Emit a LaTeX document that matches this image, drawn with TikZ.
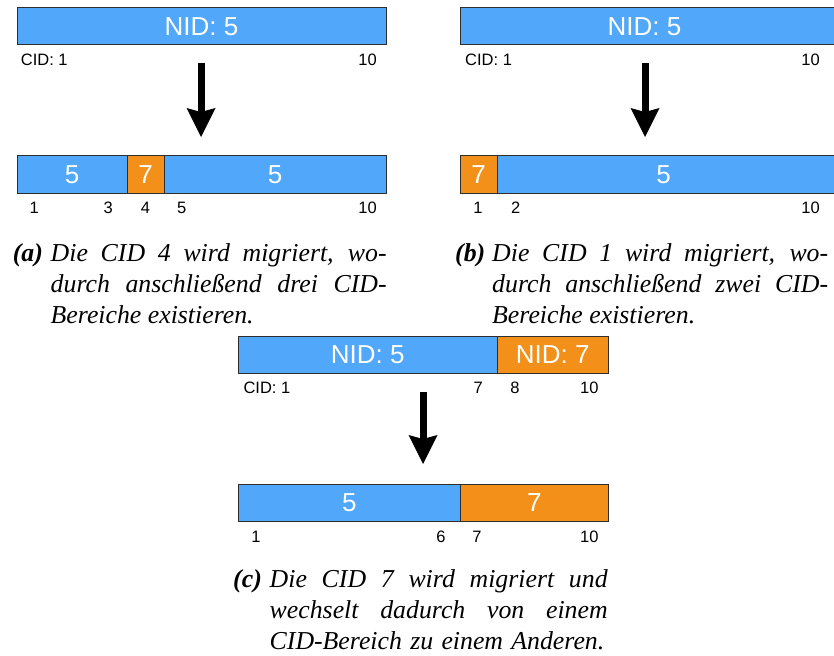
\documentclass[tikz,border=0pt]{standalone}
\usepackage{fontspec}
\setmainfont{Liberation Serif}
\newfontfamily\barfont{Liberation Sans}
\usetikzlibrary{arrows.meta}
\definecolor{kblue}{HTML}{51A7F9}
\definecolor{korange}{HTML}{F39019}
\definecolor{kedge}{HTML}{2E2E2E}
\tolerance=10000
\hbadness=10000
\begin{document}
\begin{tikzpicture}[x=1pt,y=-1pt,
  seg/.style={draw=kedge, line width=1pt, inner sep=0pt, outer sep=0pt,
    anchor=north west, minimum height=37pt, text=white,
    font=\barfont\fontsize{26}{30}\selectfont},
  bseg/.style={seg, fill=kblue},
  oseg/.style={seg, fill=korange},
  lbl/.style={inner sep=0pt, anchor=base, font=\barfont\fontsize{16.5}{20}\selectfont},
  lblw/.style={lbl, anchor=base west},
  lble/.style={lbl, anchor=base east},
  bigarrow/.style={line width=7pt, -{Stealth[length=29pt,width=29pt,inset=4pt,line width=0pt]}},
  caplab/.style={inner sep=0pt, anchor=base west, font=\fontsize{25.8}{31}\selectfont\bfseries\itshape},
  captxt/.style={inner sep=0pt, anchor=base west, text width=336pt, align=justify,
    font=\fontsize{25.8}{31}\selectfont\itshape}
]
\useasboundingbox (0,0) rectangle (834,655);
\clip (0,0) rectangle (834,655);

% ---------- (a) ----------
\node[bseg, minimum width=369pt] (aTop) at (17,8) {NID: 5};
\node[lblw] (aT1) at (20.7,66) {CID: 1};
\node[lble] (aT10) at (377,66) {10};
\coordinate (aArS) at (201,63);
\coordinate (aArE) at (201,137);
\draw[bigarrow] (aArS) -- (aArE);
\node[bseg, minimum width=110pt] (aB1) at (17,156) {5};
\node[oseg, minimum width=37pt] (aB2) at (127,156) {7};
\node[bseg, minimum width=222pt] (aB3) at (164,156) {5};
\node[lbl] (aL1) at (34.3,213) {1};
\node[lbl] (aL3) at (108.3,213) {3};
\node[lbl] (aL4) at (145.5,213) {4};
\node[lbl] (aL5) at (181.7,213) {5};
\node[lble] (aL10) at (377,213) {10};
\node[caplab] (aCapL) at (12.7,261) {(a)};
\node[captxt] (aCap) at (50.5,261) {Die CID 4 wird migriert, wo-\linebreak durch anschließend drei CID-\linebreak Bereiche existieren.};

% ---------- (b) ----------
\node[bseg, minimum width=390pt] (bTop) at (460,8) {\hspace*{-21pt}NID: 5};
\node[lblw] (bT1) at (465,66) {CID: 1};
\node[lble] (bT10) at (820,66) {10};
\coordinate (bArS) at (645,63);
\coordinate (bArE) at (645,137);
\draw[bigarrow] (bArS) -- (bArE);
\node[oseg, minimum width=37pt] (bB1) at (460,156) {7};
\node[bseg, minimum width=353pt] (bB2) at (497,156) {\hspace*{-20pt}5};
\node[lbl] (bL1) at (478,213) {1};
\node[lbl] (bL2) at (515.7,213) {2};
\node[lble] (bL10) at (820,213) {10};
\node[caplab] (bCapL) at (455,261) {(b)};
\node[captxt] (bCap) at (492,261) {Die CID 1 wird migriert, wo-\linebreak durch anschließend zwei CID-\linebreak Bereiche existieren.};

% ---------- (c) ----------
\node[bseg, minimum width=259pt] (cTop1) at (238.3,336) {NID: 5};
\node[oseg, minimum width=111pt] (cTop2) at (497.3,336) {NID: 7};
\node[lblw] (cT1) at (243.3,393) {CID: 1};
\node[lbl] (cT7) at (478.3,393) {7};
\node[lbl] (cT8) at (515,393) {8};
\node[lble] (cT10) at (598.7,393) {10};
\coordinate (cArS) at (423,392);
\coordinate (cArE) at (423,464);
\draw[bigarrow] (cArS) -- (cArE);
\node[bseg, minimum width=222pt] (cB1) at (238.3,484) {5};
\node[oseg, minimum width=148pt] (cB2) at (460.3,484) {7};
\node[lbl] (cL1) at (256,542) {1};
\node[lbl] (cL6) at (441,542) {6};
\node[lbl] (cL7) at (477,542) {7};
\node[lble] (cL10) at (598.7,542) {10};
\node[caplab] (cCapL) at (233,587) {(c)};
\node[captxt, text width=338pt] (cCap) at (269.5,587) {\parfillskip=0pt plus 6pt Die CID 7 wird migriert und\linebreak wechselt dadurch von einem\linebreak CID-Bereich zu einem Anderen.\par};
\end{tikzpicture}
\end{document}
